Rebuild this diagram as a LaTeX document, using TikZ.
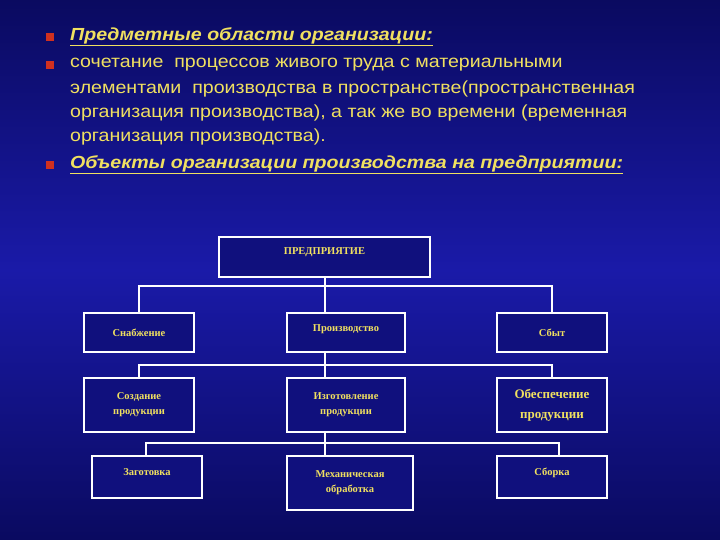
\documentclass[tikz,border=0pt]{standalone}
\usepackage{fontspec}
\setmainfont{Liberation Sans}
\newfontfamily\stretchfont[FakeStretch=1.12]{Liberation Sans}
\newfontfamily\boxfont{Liberation Serif}
\definecolor{bgdark}{HTML}{0A0A60}
\definecolor{bgmid}{HTML}{1A1AA8}
\definecolor{ytext}{HTML}{F0E060}
\definecolor{bred}{HTML}{D03020}
\begin{document}
\begin{tikzpicture}[x=1pt,y=-1pt,
  box/.style={draw=white,line width=2pt,fill=bgdark!60!bgmid,text=ytext,font=\boxfont\bfseries\fontsize{10.5}{15}\selectfont,align=center,inner sep=0pt,anchor=north west},
  bul/.style={fill=bred,minimum size=8pt,inner sep=0pt},
  ln/.style={white,line width=2pt},
  tx/.style={anchor=west,text=ytext,font=\stretchfont\fontsize{17.5}{24}\selectfont,inner sep=0pt,align=left}]
\useasboundingbox (0,0) rectangle (720,540);
\shade[top color=bgdark,bottom color=bgdark,middle color=bgmid] (0,0) rectangle (720,540);
\node[bul] (b1) at (50,37) {};
\node[bul] (b2) at (50,65) {};
\node[bul] (b3) at (50,165) {};
\node[tx] (t1) at (70,37) {\bfseries\itshape\underline{Предметные области организации:}};
\node[tx] (t2a) at (70,65) {сочетание~ процессов живого труда с материальными};
\node[tx] (t2b) at (70,89) {элементами~ производства в пространстве(пространственная};
\node[tx] (t2c) at (70,113) {организация производства), а так же во времени (временная};
\node[tx] (t2d) at (70,137) {организация производства).};
\node[tx] (t3) at (70,165) {\bfseries\itshape\underline{Объекты организации производства на предприятии:}};
\node[box,minimum width=211pt,minimum height=40pt] (p) at (218,236) {\raisebox{12pt}{ПРЕДПРИЯТИЕ}};
\node[box,minimum width=110pt,minimum height=39pt] (s1) at (83,312) {Снабжение};
\node[box,minimum width=118pt,minimum height=39pt] (s2) at (286,312) {\raisebox{8pt}{Производство}};
\node[box,minimum width=110pt,minimum height=39pt] (s3) at (496,312) {Сбыт};
\node[box,minimum width=110pt,minimum height=54pt] (m1) at (83,377) {Создание\\продукции};
\node[box,minimum width=118pt,minimum height=54pt] (m2) at (286,377) {Изготовление\\продукции};
\node[box,minimum width=110pt,minimum height=54pt,font=\boxfont\bfseries\fontsize{13}{20}\selectfont] (m3) at (496,377) {Обеспечение\\продукции};
\node[box,minimum width=110pt,minimum height=42pt] (l1) at (91,455) {\raisebox{10pt}{Заготовка}};
\node[box,minimum width=126pt,minimum height=54pt] (l2) at (286,455) {Механическая\\обработка};
\node[box,minimum width=110pt,minimum height=42pt] (l3) at (496,455) {\raisebox{10pt}{Сборка}};
\coordinate (c1) at (325,286);
\coordinate (c2) at (325,365);
\coordinate (c3) at (325,443);
\draw[ln] (p.south -| c1) -- (c1);
\draw[ln] (c1) -| (s1.north -| 139,0);
\draw[ln] (c1) -| (s3.north -| 552,0);
\draw[ln] (c1) -- (s2.north -| c1);
\draw[ln] (s2.south -| c2) -- (c2);
\draw[ln] (c2) -| (m1.north -| 139,0);
\draw[ln] (c2) -| (m3.north -| 552,0);
\draw[ln] (c2) -- (m2.north -| c2);
\draw[ln] (m2.south -| c3) -- (c3);
\draw[ln] (c3) -| (l1.north -| 146,0);
\draw[ln] (c3) -| (l3.north -| 559,0);
\draw[ln] (c3) -- (l2.north -| c3);
\end{tikzpicture}
\end{document}
